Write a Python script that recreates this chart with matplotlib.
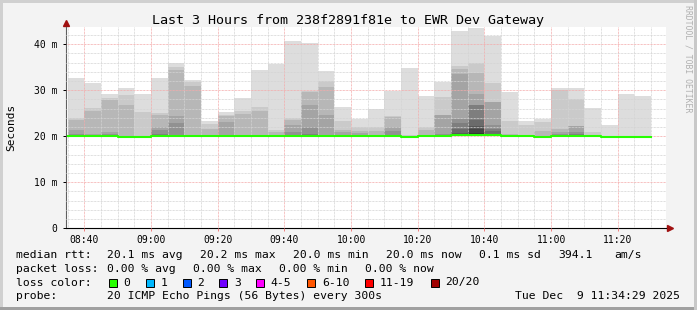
import numpy as np
import matplotlib.pyplot as plt
from matplotlib.patches import Rectangle

# ------------------------------------------------------------
# datos (smokeping, pasos de 5 minutos)
# inicio de cada paso en minutos desde medianoche: 08:35 ... 11:25
inicio = np.arange(515, 690, 5)

# pings mas altos de cada paso, de mayor a menor (el resto esta en la mediana)
pings_altos = [
    [32.7, 23.9, 23.5, 21.4, 20.4],
    [31.6, 26.2, 25.4, 20.5],
    [29.2, 28.3, 27.8, 20.9, 20.5],
    [30.5, 29.0, 26.7],
    [29.2, 25.3],
    [32.7, 25.0, 24.7, 22.1, 21.4, 20.4],
    [35.9, 35.1, 34.3, 24.5, 22.9],
    [32.2, 31.7, 30.9],
    [23.3, 22.7, 21.5],
    [25.2, 24.7, 24.3, 23.1],
    [28.3, 25.4, 24.9],
    [34.4, 26.4, 25.4],
    [35.6, 21.4, 20.9],
    [40.7, 23.9, 23.5, 22.5, 21.0],
    [40.3, 29.9, 29.6, 26.8, 22.0, 20.5],
    [34.1, 32.0, 30.7, 24.6],
    [26.4, 23.3, 21.4, 21.0],
    [23.8, 22.0, 21.1, 20.7],
    [26.0, 22.1, 21.1],
    [29.9, 24.3, 24.2, 22.0, 21.1],
    [34.9, 20.2],
    [28.8, 22.1, 21.4],
    [31.8, 28.6, 24.7, 24.6, 20.5],
    [42.9, 35.2, 34.6, 33.6, 23.8, 22.9, 21.6, 20.7],
    [43.6, 36.0, 33.8, 29.2, 26.8, 26.7, 23.6, 22.3, 21.5, 20.7],
    [41.7, 31.6, 27.5, 27.4, 22.5, 21.6, 21.1, 20.5],
    [29.6, 23.4, 20.5],
    [23.3, 22.5],
    [23.8, 23.0, 21.2],
    [30.4, 30.1, 21.6, 21.0, 20.5],
    [30.4, 28.1, 22.3, 22.2, 21.0, 20.5],
    [26.2, 21.0],
    [22.5],
    [29.2],
    [28.8],
]

medianas = [20.1, 20.1, 20.1, 19.85, 19.85, 20.1, 20.1, 20.1, 20.1, 20.1,
            20.1, 20.1, 20.1, 20.1, 20.1, 20.1, 20.1, 20.1, 20.1, 20.1,
            19.85, 20.1, 20.1, 20.2, 20.2, 20.2, 20.1, 20.1, 19.85, 20.1,
            20.1, 20.1, 19.85, 19.85, 19.85]

ticks_x = [520, 540, 560, 580, 600, 620, 640, 660, 680]
etiquetas_x = ['08:40', '09:00', '09:20', '09:40', '10:00', '10:20', '10:40', '11:00', '11:20']
ticks_y = [0, 10, 20, 30, 40]
etiquetas_y = ['0', '10 m', '20 m', '30 m', '40 m']

colores_perdida = ['#26ff00', '#00b8ff', '#0059ff', '#7000ff', '#ff00ff', '#ff5500', '#ff0000', '#a00000']
nombres_perdida = ['0', '1', '2', '3', '4-5', '6-10', '11-19', '20/20']

#-------------------------------------------------
W, H = 697, 310
mono = 'DejaVu Sans Mono'
px = 72 / 100  # un pixel en puntos

def fx(x):
    return x / W

def fy(y):
    return 1 - y / H

fig = plt.figure(figsize=(W / 100, H / 100), dpi=100, facecolor='#f3f3f3')

# marco del canvas
fig.add_artist(Rectangle((0, fy(3)), 1, 3 / H, transform=fig.transFigure, color='#d0d0d0', lw=0))
fig.add_artist(Rectangle((0, 0), 3 / W, 1, transform=fig.transFigure, color='#d0d0d0', lw=0))
fig.add_artist(Rectangle((0, 0), 1, 3 / H, transform=fig.transFigure, color='#a0a0a0', lw=0))
fig.add_artist(Rectangle((fx(W - 3), 0), 3 / W, 1, transform=fig.transFigure, color='#c8c8c8', lw=0))

ax = fig.add_axes([fx(66), fy(228.3), 600 / W, (228.3 - 26.7) / H])
ax.set_facecolor('white')

#-------------------------------------------------
# humo: capas entre p_k y p_(21-k)
n = 20
mitad = n // 2
nb = len(inicio)
abajo = np.zeros((mitad, nb))
arriba = np.zeros((mitad, nb))
for j in range(nb):
    med = medianas[j]
    altos = list(pings_altos[j]) + [med] * (mitad - len(pings_altos[j]))
    p = [med] * mitad + altos[::-1]
    for k in range(1, mitad + 1):
        abajo[k - 1, j] = p[k - 1]
        arriba[k - 1, j] = p[n - k]

xs = np.append(inicio, inicio[-1] + 5)
for k in range(1, mitad + 1):
    gris = int(190 / mitad * (mitad - k)) + 50
    col = '#%02x%02x%02x' % (gris, gris, gris)
    ax.fill_between(xs, np.append(abajo[k - 1], abajo[k - 1, -1]),
                    np.append(arriba[k - 1], arriba[k - 1, -1]),
                    step='post', color=col, lw=0, zorder=1)

# mediana
ax.step(xs, np.append(medianas, medianas[-1]), where='post', color='#26ff00', lw=1.5, zorder=3)

#-------------------------------------------------
ax.set_xlim(514.483, 694.483)
ax.set_ylim(0, 43.8)
ax.set_xticks(ticks_x)
ax.set_xticklabels(etiquetas_x, fontfamily=mono, fontsize=7)
ax.set_xticks(np.arange(515, 695, 5), minor=True)
ax.set_yticks(ticks_y)
ax.set_yticklabels(etiquetas_y, fontfamily=mono, fontsize=7)
ax.set_yticks(np.arange(0, 44, 2), minor=True)

ax.set_axisbelow(False)
punteado = (0, (px, px))
ax.grid(which='minor', color='#d4d4d4', linestyle=punteado, lw=px)
ax.grid(which='major', color='#f4aaaa', linestyle=punteado, lw=px)
ax.tick_params(axis='x', which='major', length=2, width=px, color='#f08080', pad=3)
ax.tick_params(axis='x', which='minor', length=0)
ax.tick_params(axis='y', which='major', length=2, width=px, color='black', pad=4)
ax.tick_params(axis='y', which='minor', length=0)

for s in ['top', 'right']:
    ax.spines[s].set_visible(False)
ax.spines['left'].set_color('#606060')
ax.spines['bottom'].set_color('black')

# flechas de los ejes
ax.plot([0], [1.02], marker='^', color='#a01010', ms=4, transform=ax.transAxes, clip_on=False)
ax.plot([1.006], [0], marker='>', color='#a01010', ms=4, transform=ax.transAxes, clip_on=False)

#-------------------------------------------------
# textos
fig.text(fx(348), fy(24), 'Last 3 Hours from 238f2891f81e to EWR Dev Gateway',
         ha='center', va='baseline', fontfamily=mono, fontsize=9.6)
fig.text(fx(11), fy(127.5), 'Seconds', rotation=90, ha='center', va='center',
         fontfamily=mono, fontsize=8)
fig.text(fx(688), fy(5), 'RRDTOOL / TOBI OETIKER', rotation=270, ha='center', va='top',
         fontfamily=mono, fontsize=5.9, color='#b0b0b0')

linea1 = [(16, 'median rtt:'), (107.3, '20.1 ms avg'), (200, '20.2 ms max'),
          (293.3, '20.0 ms min'), (386, '20.0 ms now'), (479.3, '0.1 ms sd'),
          (558.3, '394.1'), (614, 'am/s')]
linea2 = [(16, 'packet loss:'), (107.3, '0.00 % avg'), (193.3, '0.00 % max'),
          (279.3, '0.00 % min'), (365, '0.00 % now')]
for x, t in linea1:
    fig.text(fx(x), fy(258), t, va='baseline', fontfamily=mono, fontsize=8.2)
for x, t in linea2:
    fig.text(fx(x), fy(271.7), t, va='baseline', fontfamily=mono, fontsize=8.2)

fig.text(fx(16), fy(285.5), 'loss color:', va='baseline', fontfamily=mono, fontsize=8.2)
cajas_x = [108.7, 145.7, 182.7, 219.3, 256, 307.3, 365.3, 430.7]
for cx, col, nom in zip(cajas_x, colores_perdida, nombres_perdida):
    fig.add_artist(Rectangle((fx(cx), fy(286.7)), 8 / W, 8 / H, transform=fig.transFigure,
                             facecolor=col, edgecolor='black', lw=0.7))
    fig.text(fx(cx + 14.7), fy(285.5), nom, va='baseline', fontfamily=mono, fontsize=8.2)

fig.text(fx(16), fy(299), 'probe:', va='baseline', fontfamily=mono, fontsize=8.2)
fig.text(fx(107.3), fy(299), '20 ICMP Echo Pings (56 Bytes) every 300s', va='baseline',
         fontfamily=mono, fontsize=8.2)
fig.text(fx(680), fy(299), 'Tue Dec  9 11:34:29 2025', ha='right', va='baseline',
         fontfamily=mono, fontsize=8.2)

fig.savefig('out.png', dpi=100, facecolor=fig.get_facecolor())
